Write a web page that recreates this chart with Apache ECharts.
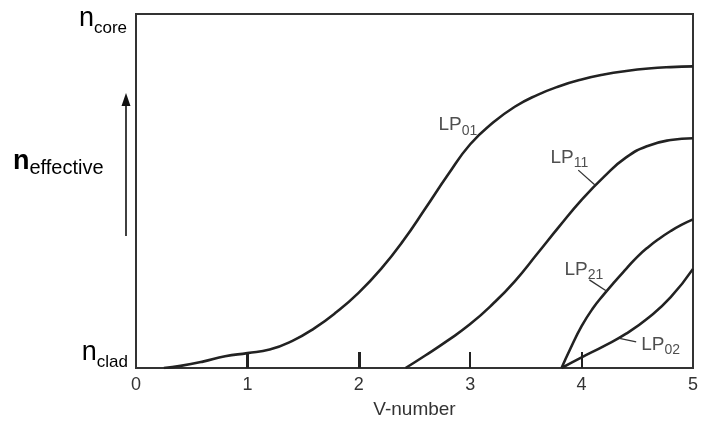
<!DOCTYPE html>
<html>
<head>
<meta charset="utf-8">
<script src="https://cdn.jsdelivr.net/npm/echarts@6/dist/echarts.min.js"></script>
<style>
html,body{margin:0;padding:0;background:#fff;}
#c{width:702px;height:425px;}
</style>
</head>
<body>
<div id="c"></div>
<script>
// ---- data (V-number, normalized n_effective: 0 = n_clad, 1 = n_core) ----
var xTicks = [0, 1, 2, 3, 4, 5];
var boldTicks = [1, 2];
var thinTicks = [3, 4];
var lp01 = [[0.25,0],[0.4,0.006],[0.6,0.018],[0.8,0.033],[1.0,0.042],[1.2,0.052],[1.4,0.076],[1.6,0.112],[1.8,0.158],[2.0,0.213],[2.2,0.28],[2.4,0.36],[2.6,0.452],[2.8,0.546],[3.0,0.632],[3.2,0.692],[3.4,0.738],[3.6,0.771],[3.8,0.796],[4.0,0.815],[4.2,0.829],[4.4,0.839],[4.6,0.846],[4.8,0.85],[5.0,0.852]];
var lp11 = [[2.42,0],[2.6,0.036],[2.8,0.078],[3.0,0.124],[3.2,0.18],[3.4,0.245],[3.6,0.322],[3.8,0.4],[4.0,0.475],[4.2,0.54],[4.4,0.595],[4.6,0.628],[4.8,0.644],[5.0,0.649]];
var lp21 = [[3.82,0],[3.9,0.055],[4.0,0.118],[4.1,0.168],[4.2,0.208],[4.3,0.245],[4.4,0.28],[4.5,0.314],[4.6,0.342],[4.7,0.366],[4.8,0.387],[4.9,0.405],[5.0,0.42]];
var lp02 = [[3.82,0],[4.0,0.03],[4.2,0.062],[4.4,0.097],[4.6,0.142],[4.8,0.2],[5.0,0.28]];
var modeNames = ['01', '11', '21', '02'];
var modeLabelPos = [[2.89,0.686],[3.89,0.595],[4.02,0.278],[4.71,0.066]];
var leaderLines = [
  [[3.97,0.559],[4.12,0.517]],
  [[4.07,0.249],[4.23,0.216]],
  [[4.34,0.084],[4.49,0.074]]
];
var yLabels = ['clad', 'core'];
var xName = 'V-number';
var yName = 'effective';

var FONT = '"Liberation Sans", Arial, sans-serif';
var INK = '#222';
var chart = echarts.init(document.getElementById('c'), null, {renderer: 'canvas'});

function curve(d) {
  return {
    type: 'line', data: d, smooth: 0.5, symbol: 'none', z: 3,
    lineStyle: {color: INK, width: 2.6}
  };
}
var series = [curve(lp01), curve(lp11), curve(lp21), curve(lp02)];
leaderLines.forEach(function (l) {
  series.push({type: 'line', data: l, symbol: 'none', z: 3,
    lineStyle: {color: '#333', width: 1.3}});
});
series.push({
  type: 'scatter', symbolSize: 1, itemStyle: {color: 'rgba(0,0,0,0)'}, z: 4,
  data: modeLabelPos.map(function (p, i) { return {value: p, name: modeNames[i]}; }),
  label: {
    show: true, position: 'inside', color: '#222', fontFamily: FONT,
    formatter: function (p) { return '{a|LP}{b|' + p.name + '}'; },
    rich: {
      a: {fontSize: 19, fontFamily: FONT, color: '#222', verticalAlign: 'bottom'},
      b: {fontSize: 14, fontFamily: FONT, color: '#222', verticalAlign: 'bottom', padding: [0, 0, -3, 0]}
    }
  }
});

var option = {
  animation: false,
  backgroundColor: '#fff',
  grid: {left: 136, right: 9, top: 14, bottom: 57, show: true,
    borderColor: '#333', borderWidth: 2, backgroundColor: 'transparent'},
  xAxis: [{
    type: 'value', min: 0, max: 5, interval: 1,
    name: xName, nameLocation: 'middle', nameGap: 32,
    nameTextStyle: {fontSize: 19, fontFamily: FONT, color: '#333'},
    axisLine: {show: true, onZero: false, lineStyle: {color: '#333', width: 2}},
    axisTick: {show: true, inside: true, length: 16, customValues: boldTicks,
      lineStyle: {color: '#222', width: 3}},
    axisLabel: {fontSize: 18, fontFamily: FONT, color: '#333', margin: 8,
      customValues: xTicks},
    splitLine: {show: false}
  }, {
    type: 'value', min: 0, max: 5, interval: 1, position: 'bottom',
    axisLine: {show: false},
    axisTick: {show: true, inside: true, length: 16, customValues: thinTicks,
      lineStyle: {color: '#222', width: 2}},
    axisLabel: {show: false},
    splitLine: {show: false}
  }],
  yAxis: {
    type: 'value', min: 0, max: 1, interval: 1,
    axisLine: {show: true, onZero: false, lineStyle: {color: '#333', width: 2}},
    axisTick: {show: false}, axisLabel: {show: false}, splitLine: {show: false}
  },
  series: series
};
chart.setOption(option);

var pTop = chart.convertToPixel({gridIndex: 0}, [0, 1]);
var pBot = chart.convertToPixel({gridIndex: 0}, [0, 0]);
var richN = {
  n: {fontSize: 27, fontFamily: FONT, color: '#222', verticalAlign: 'bottom'},
  s: {fontSize: 17, fontFamily: FONT, color: '#222', verticalAlign: 'bottom', padding: [0, 0, -4, 0]},
  nb: {fontSize: 27, fontFamily: FONT, fontWeight: 'bold', color: '#111', verticalAlign: 'bottom'},
  sb: {fontSize: 20, fontFamily: FONT, color: '#222', verticalAlign: 'bottom', padding: [0, 0, -3, 0]}
};
chart.setOption({
  graphic: [
    {type: 'text', style: {x: pTop[0] - 9, y: pTop[1] + 5, text: '{n|n}{s|' + yLabels[1] + '}',
      rich: richN, align: 'right', verticalAlign: 'middle'}},
    {type: 'text', style: {x: pBot[0] - 8, y: pBot[1] - 15, text: '{n|n}{s|' + yLabels[0] + '}',
      rich: richN, align: 'right', verticalAlign: 'middle'}},
    {type: 'text', style: {x: 13, y: 162, text: '{nb|n}{sb|' + yName + '}',
      rich: richN, align: 'left', verticalAlign: 'middle'}},
    {type: 'line', shape: {x1: pTop[0] - 10, y1: 104, x2: pTop[0] - 10, y2: 236},
      style: {stroke: '#111', lineWidth: 1.6}},
    {type: 'polygon', shape: {points: [[pTop[0] - 10, 93], [pTop[0] - 14.5, 106], [pTop[0] - 5.5, 106]]},
      style: {fill: '#111'}}
  ]
});
</script>
</body>
</html>
